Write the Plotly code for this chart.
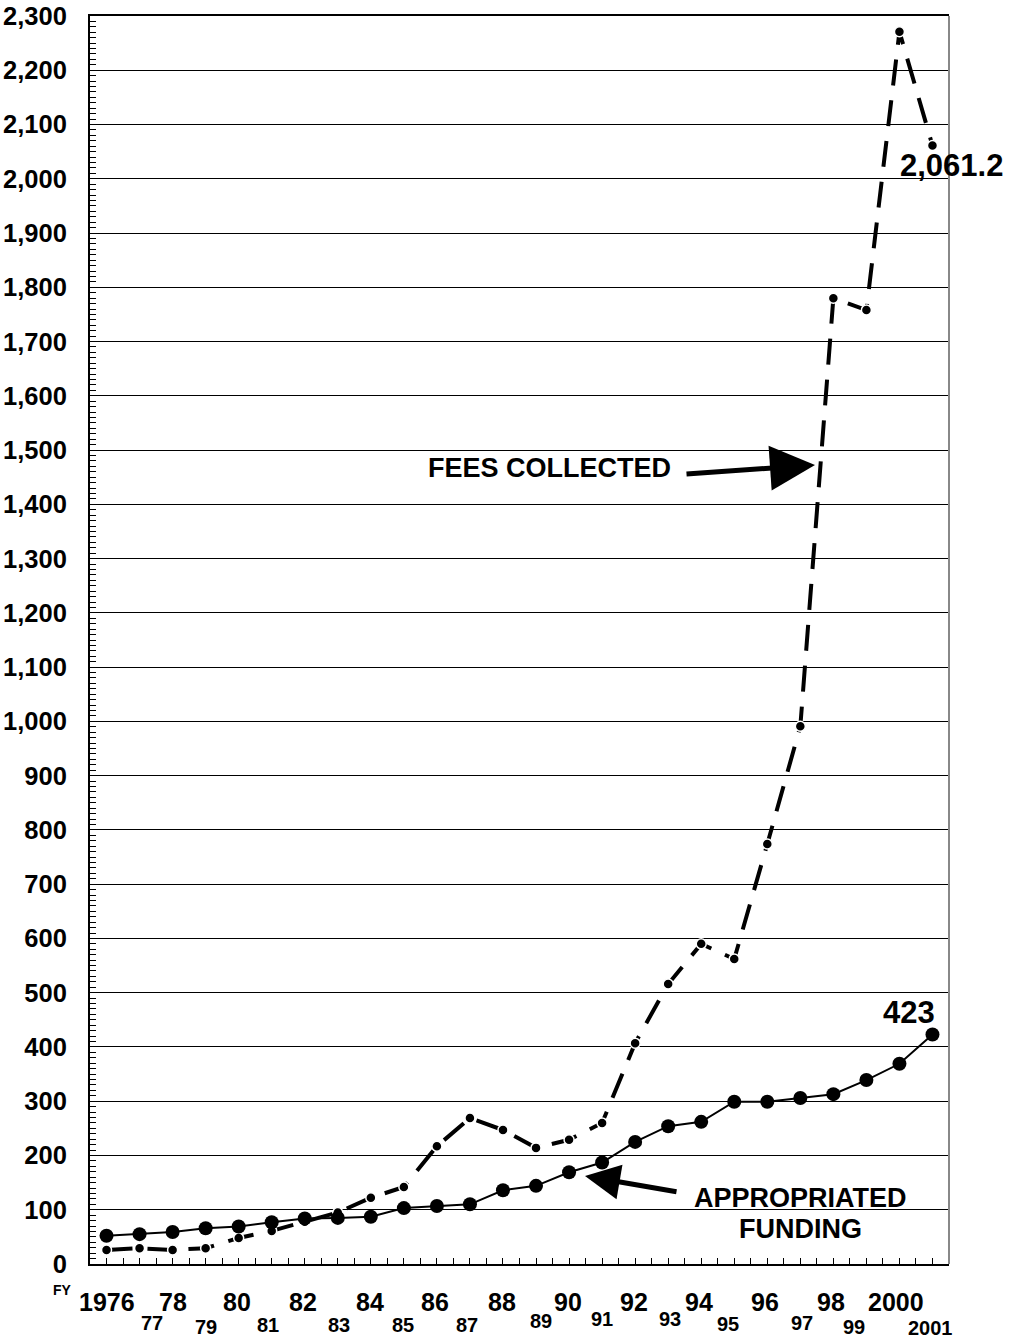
import plotly.graph_objects as go

# ---- data ----
years = list(range(1976, 2002))
year_labels = ["1976", "77", "78", "79", "80", "81", "82", "83", "84", "85", "86", "87", "88",
               "89", "90", "91", "92", "93", "94", "95", "96", "97", "98", "99", "2000", "2001"]
fees_collected = [26, 29, 26, 29, 48, 61, 78, 95, 122, 142, 217, 269, 247, 214, 229, 260,
                  407, 516, 590, 562, 774, 991, 1780, 1758, 2271, 2061.2]
appropriated = [52, 55, 59, 66, 69, 77, 84, 85, 87, 103, 107, 110, 136, 144, 169, 187,
                225, 254, 262, 299, 299, 306, 313, 339, 369, 423]

# ---- styling / layout helpers ----
FONT = "Liberation Sans"
W, H = 1016, 1340
# pixel offsets of staggered year labels (x shift, label centre y in page px)
label_dx = [0, 12, 0, 0, -2, -4, -2, 1, -1, -1, -2, -3, -1, 5, -1, 0, -1, 2, -2, -6, -2, 2, -2, -12, -3, -2]
label_ypix = [1302, 1323, 1302, 1327, 1302, 1325, 1302, 1325, 1302, 1325, 1302, 1325, 1302,
              1321, 1302, 1319, 1302, 1319, 1302, 1324, 1302, 1323, 1302, 1327, 1302, 1328]
# plot area edges in page px
L, R, T, B = 90, 949, 16, 1264

def px_to_paper(px, py):
    return (px - L) / (R - L), (B - py) / (B - T)

fig = go.Figure()

fig.add_trace(go.Scatter(
    x=years, y=fees_collected, mode="lines+markers",
    line=dict(color="black", width=4, dash="26px,15px"),
    marker=dict(size=10, color="black", line=dict(color="white", width=1.5)),
    name="Fees collected", hoverinfo="x+y"))

fig.add_trace(go.Scatter(
    x=years, y=appropriated, mode="lines+markers",
    line=dict(color="black", width=2),
    marker=dict(size=14, color="black"),
    name="Appropriated funding", hoverinfo="x+y"))

annotations = []
for yr, lab, dx, yp in zip(years, year_labels, label_dx, label_ypix):
    even = (yr % 2 == 0)
    annotations.append(dict(
        x=yr, xref="x", y=0, yref="paper", text=lab, showarrow=False,
        xanchor="center", yanchor="middle", xshift=dx, yshift=-(yp - B),
        font=dict(family=FONT, size=25 if even else 20, color="black", weight="bold")))

annotations.append(dict(
    x=0, xref="paper", y=0, yref="paper", text="FY", showarrow=False,
    xanchor="center", yanchor="middle", xshift=-28, yshift=-26,
    font=dict(family=FONT, size=14, color="black", weight="bold")))

# value labels
annotations.append(dict(
    x=years[-1], y=appropriated[-1], xref="x", yref="y", text=str(appropriated[-1]),
    showarrow=False, xanchor="center", yanchor="middle", xshift=-23, yshift=22,
    font=dict(family=FONT, size=31, color="black", weight="bold")))
annotations.append(dict(
    x=years[-1], y=fees_collected[-1], xref="x", yref="y", text=f"{fees_collected[-1]:,.1f}",
    showarrow=False, xanchor="center", yanchor="middle", xshift=19, yshift=-20,
    font=dict(family=FONT, size=31, color="black", weight="bold")))

# series labels (centres given in page px)
for txt, cx, cy in [("FEES COLLECTED", 549, 468), ("APPROPRIATED", 800, 1198), ("FUNDING", 800, 1229)]:
    px, py = px_to_paper(cx, cy)
    annotations.append(dict(
        x=px, y=py, xref="paper", yref="paper", text=txt, showarrow=False,
        xanchor="center", yanchor="middle",
        font=dict(family=FONT, size=27, color="black", weight="bold")))

# arrows (tip given in page px; tail as pixel offsets)
tx, ty = px_to_paper(815, 465)
annotations.append(dict(
    x=tx, y=ty, xref="paper", yref="paper", text="", showarrow=True,
    ax=-130, ay=9, arrowhead=2, arrowsize=1.8, arrowwidth=5, arrowcolor="black", standoff=0))
tx, ty = px_to_paper(585, 1176)
annotations.append(dict(
    x=tx, y=ty, xref="paper", yref="paper", text="", showarrow=True,
    ax=93, ay=16, arrowhead=2, arrowsize=1.4, arrowwidth=5, arrowcolor="black", standoff=0))

fig.update_layout(
    width=W, height=H,
    margin=dict(l=L, r=W - R, t=T, b=H - B, autoexpand=False),
    paper_bgcolor="white", plot_bgcolor="white",
    showlegend=False,
    annotations=annotations,
    shapes=[dict(type="line", xref="paper", yref="paper", x0=1, x1=1, y0=0, y1=1,
                 line=dict(color="#888888", width=2))],
    xaxis=dict(
        range=[1975.5, 2001.5], tickmode="linear", tick0=1976, dtick=1,
        ticks="inside", ticklen=6, tickcolor="black", tickwidth=1,
        showticklabels=False, showgrid=False, zeroline=False, automargin=False,
        showline=True, linecolor="black", linewidth=2, mirror=True,
        minor=dict(tick0=1975.5, dtick=0.5, ticks="inside", ticklen=6, tickcolor="black", showgrid=False)),
    yaxis=dict(
        range=[0, 2300], tickmode="linear", tick0=0, dtick=100, tickformat=",",
        ticks="inside", ticklen=6, tickcolor="black", tickwidth=1,
        showgrid=True, gridcolor="black", gridwidth=1, zeroline=False, automargin=False,
        showline=True, linecolor="black", linewidth=2,
        ticklabelstandoff=16, ticklabeloverflow="allow",
        tickfont=dict(family=FONT, size=25.5, color="black", weight="bold"),
        minor=dict(dtick=10, ticks="inside", ticklen=6, tickcolor="black", showgrid=False)),
)

fig.write_html("out.html", config={"displayModeBar": False},
               post_script="document.body.style.margin='0';document.body.style.overflow='hidden';")
